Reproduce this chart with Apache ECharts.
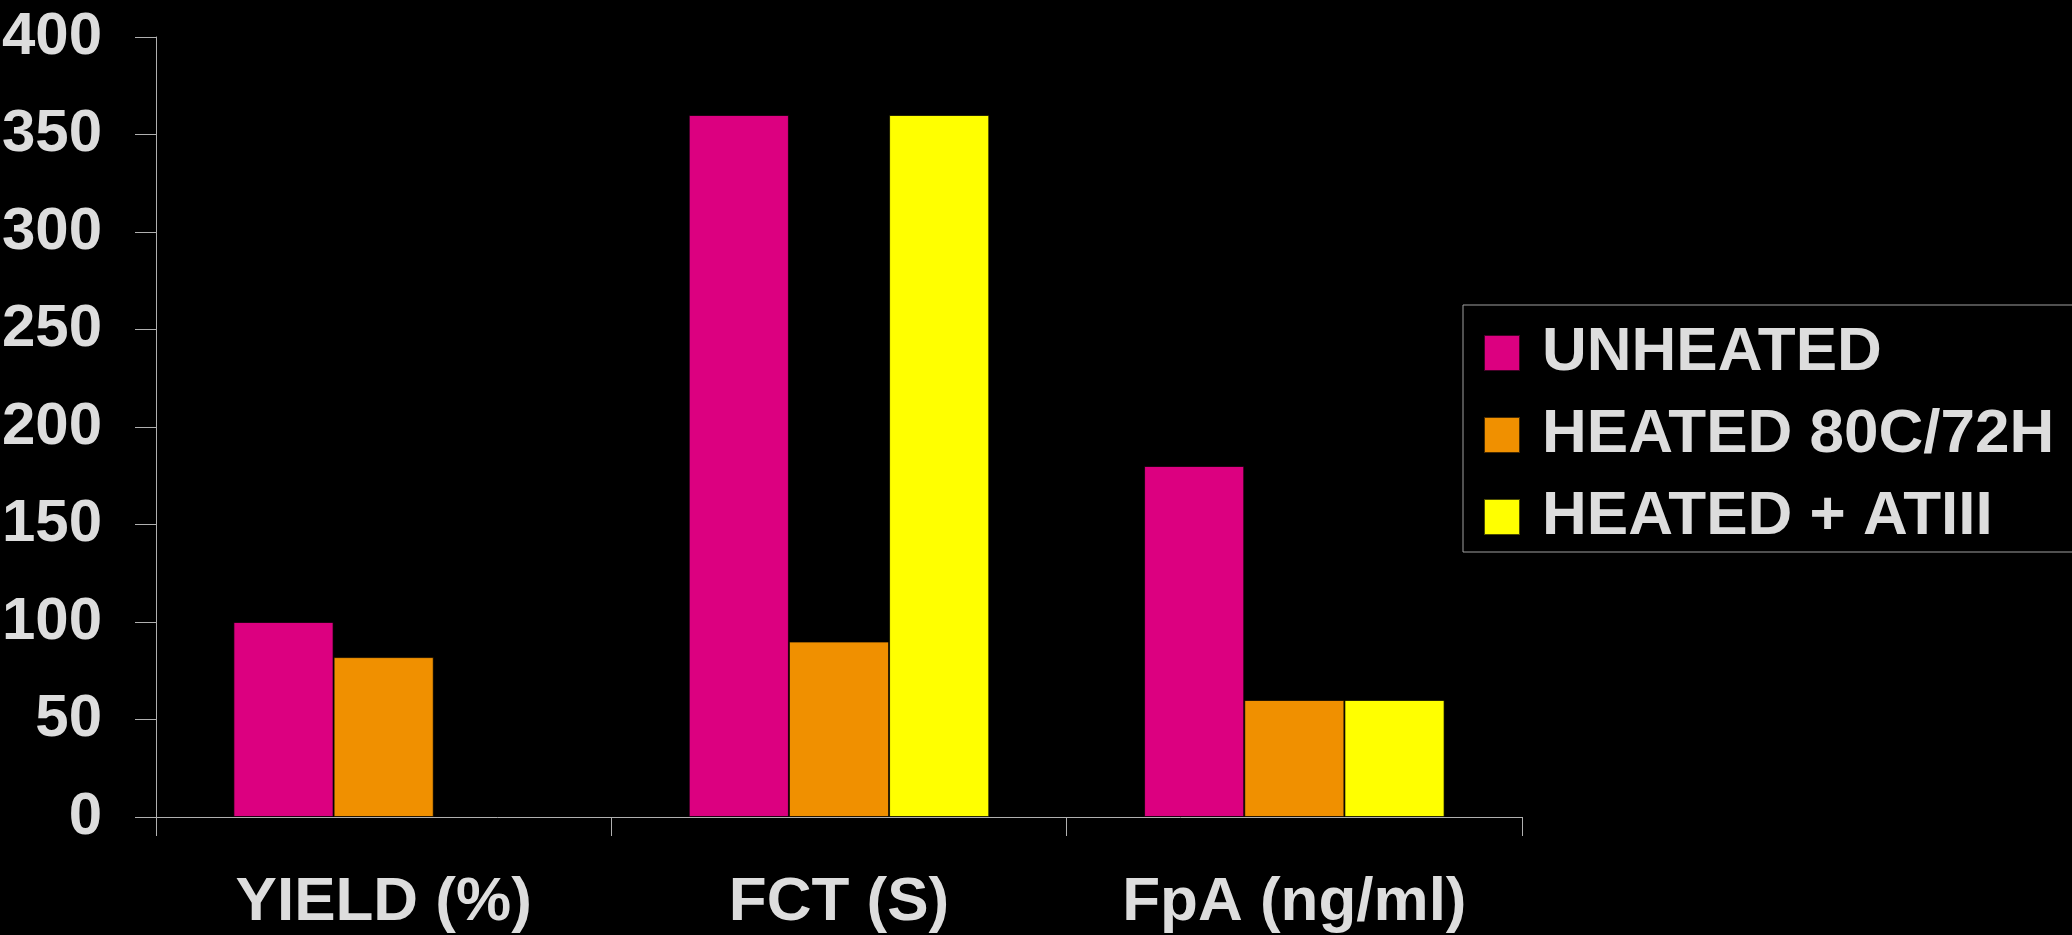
<!DOCTYPE html>
<html>
<head>
<meta charset="utf-8">
<script src="https://cdn.jsdelivr.net/npm/echarts@6/dist/echarts.min.js"></script>
<style>
html,body{margin:0;padding:0;background:#000;}
#chart{width:2072px;height:935px;}
</style>
</head>
<body>
<div id="chart"></div>
<script>
const categories = ['YIELD (%)', 'FCT (S)', 'FpA (ng/ml)'];
const seriesNames = ['UNHEATED', 'HEATED 80C/72H', 'HEATED + ATIII'];
const unheated = [100, 360, 180];
const heated = [82, 90, 60];
const heatedAtiii = [null, 360, 60];
const yTicks = [0, 50, 100, 150, 200, 250, 300, 350, 400];

const colors = ['#dc0080', '#f09000', '#ffff00'];
const font = '"Liberation Sans", Arial, sans-serif';
const textColor = '#dddddd';

const chart = echarts.init(document.getElementById('chart'));
const dataSets = [unheated, heated, heatedAtiii];
chart.setOption({
  backgroundColor: '#000',
  animation: false,
  grid: { left: 156, right: 550, top: 37, bottom: 118, containLabel: false, outerBoundsMode: 'none' },
  legend: {
    orient: 'vertical',
    left: 1463, top: 305,
    padding: [17, 200, 4, 20],
    borderColor: '#a0a0a0', borderWidth: 1,
    itemWidth: 36, itemHeight: 36, itemGap: 20,
    icon: 'rect',
    textStyle: { color: textColor, fontSize: 62, fontWeight: 'bold', fontFamily: font, padding: [0, 0, 0, 17] },
    data: seriesNames
  },
  xAxis: {
    type: 'category',
    data: categories,
    axisLine: { lineStyle: { color: '#b0b0b0', width: 1 } },
    axisTick: { show: true, length: 19, lineStyle: { color: '#b0b0b0' } },
    axisLabel: { color: textColor, fontSize: 62, fontWeight: 'bold', fontFamily: font, margin: 55 }
  },
  yAxis: {
    type: 'value',
    min: yTicks[0], max: yTicks[yTicks.length - 1], interval: 50,
    splitLine: { show: false },
    axisLine: { show: true, lineStyle: { color: '#b0b0b0', width: 1 } },
    axisTick: { show: true, length: 21, lineStyle: { color: '#b0b0b0' } },
    axisLabel: { color: textColor, fontSize: 60, fontWeight: 'bold', fontFamily: font, margin: 54 }
  },
  series: seriesNames.map((n, i) => ({
    name: n,
    type: 'bar',
    data: dataSets[i],
    barGap: '0%',
    barCategoryGap: '34%',
    itemStyle: { color: colors[i], borderColor: 'rgba(0,0,0,0.7)', borderWidth: 1 }
  }))
});
</script>
</body>
</html>
